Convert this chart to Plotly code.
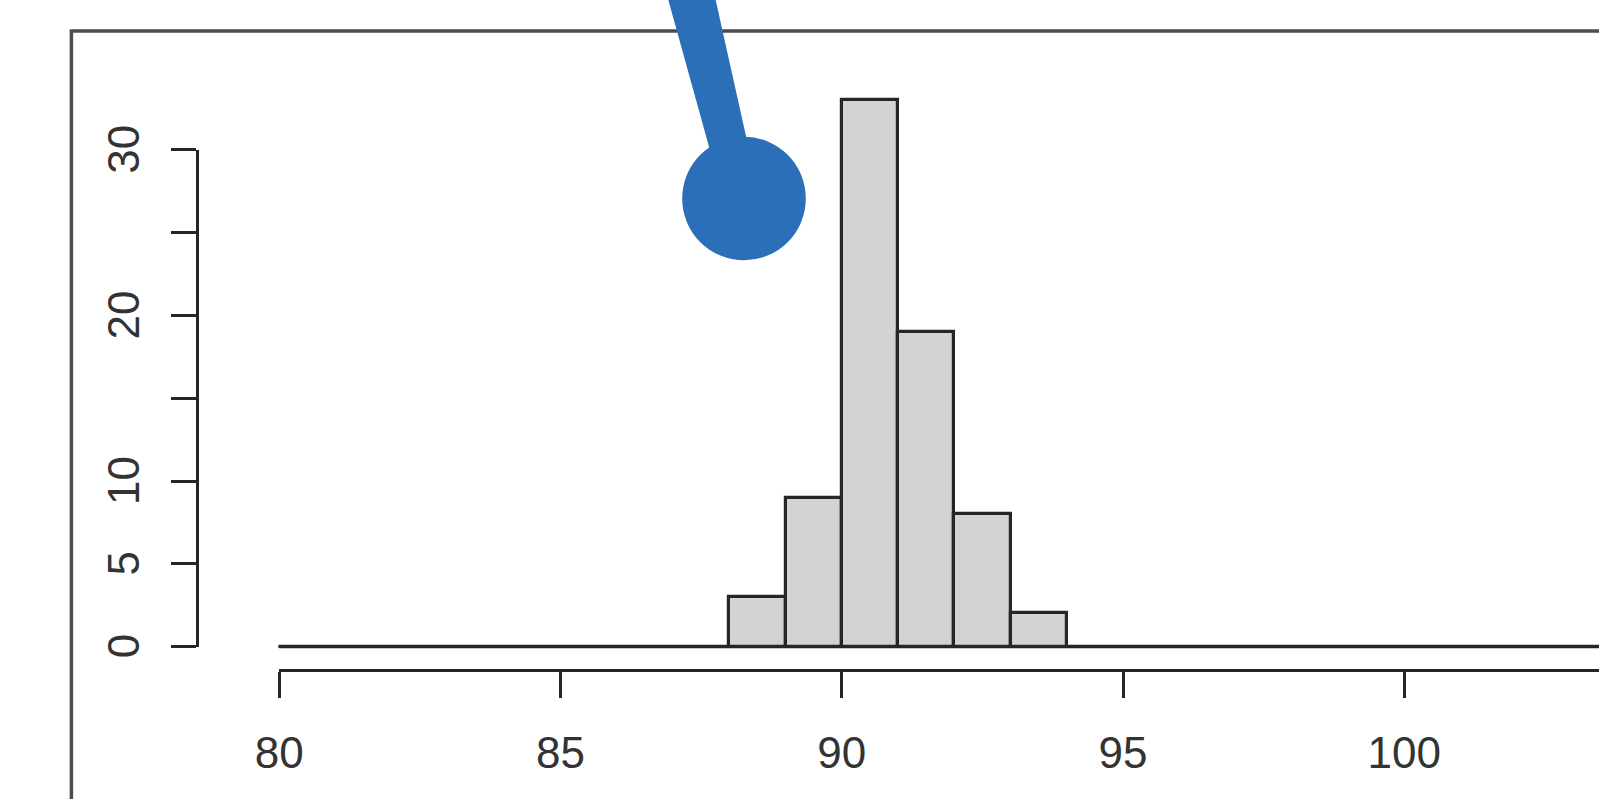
import plotly.graph_objects as go

# Histogram counts, one unit-wide bin per entry starting at 80
bin_starts = list(range(80, 104))
counts = [0, 0, 0, 0, 0, 0, 0, 0, 3, 9, 33, 19, 8, 2,
          0, 0, 0, 0, 0, 0, 0, 0, 0, 0]
x_ticks = [80, 85, 90, 95, 100]
x_tick_labels = ["80", "85", "90", "95", "100"]
y_ticks = [0, 5, 10, 15, 20, 25, 30]
y_tick_labels = ["0", "5", "10", "", "20", "", "30"]

W, H = 1599, 799
INK = "#262626"
TEXT = "#333333"
FONT = "Liberation Sans, Arial, sans-serif"
NBSP = "\u00a0"

# pixel geometry of the plotting region
X80_PX, PX_PER_X = 279.3, 56.25
Y0_PX, PX_PER_Y = 646.6, 16.56


def x_at(px):
    return 80 + (px - X80_PX) / PX_PER_X


def y_at(py):
    return (Y0_PX - py) / PX_PER_Y


def paper(px, py):
    return px / W, 1 - py / H


centers = [b + 0.5 for b in bin_starts]

fig = go.Figure()
fig.add_trace(go.Bar(
    x=centers, y=counts, width=1,
    marker=dict(color="#d3d3d3", line=dict(color=INK, width=3.2)),
    hoverinfo="skip", showlegend=False,
    xaxis="x", yaxis="y",
))
# carrier trace for the R-style axes
fig.add_trace(go.Scatter(
    x=[x_ticks[0]], y=[y_ticks[0]], mode="markers",
    marker=dict(opacity=0), hoverinfo="skip", showlegend=False,
    xaxis="x2", yaxis="y2",
))

x_right = x_at(W)
shapes = []
# zero-count bins form the baseline
shapes.append(dict(type="line", xref="x", yref="y",
                   x0=bin_starts[0], x1=x_right + 1, y0=0, y1=0,
                   line=dict(color=INK, width=3.2), layer="above"))

# plot frame (left and top edges)
bx, by = paper(71.4, 31.0)
shapes.append(dict(type="path", xref="paper", yref="paper",
                   path=f"M {bx},-0.05 L {bx},{by} L 1.05,{by}",
                   line=dict(color="#4d4d4d", width=3.5)))

# blue pointer: tapered stem and round head
BLUE = "#2a6fb8"
pts = [(665, -12), (713, -12), (758, 190), (721, 190)]
pp = [paper(*p) for p in pts]
path = "M " + " L ".join(f"{a},{b}" for a, b in pp) + " Z"
shapes.append(dict(type="path", xref="paper", yref="paper", path=path,
                   fillcolor=BLUE, line=dict(color=BLUE, width=0)))
cx, cy, r = 744.0, 198.5, 61.8
x0, y1 = paper(cx - r, cy - r)
x1, y0 = paper(cx + r, cy + r)
shapes.append(dict(type="circle", xref="paper", yref="paper",
                   x0=x0, x1=x1, y0=y0, y1=y1,
                   fillcolor=BLUE, line=dict(color=BLUE, width=0)))

axis_common = dict(showgrid=False, zeroline=False, showline=True,
                   linecolor=INK, linewidth=3, ticks="outside",
                   tickcolor=INK, tickwidth=3, automargin=False,
                   tickfont=dict(family=FONT, size=44, color=TEXT))

fig.update_layout(
    width=W, height=H,
    margin=dict(l=0, r=0, t=0, b=0, pad=0),
    paper_bgcolor="white", plot_bgcolor="rgba(0,0,0,0)",
    bargap=0,
    xaxis=dict(domain=[0, 1], range=[x_at(0), x_right], visible=False,
               automargin=False),
    yaxis=dict(domain=[0, 1], range=[y_at(H), y_at(0)], visible=False,
               automargin=False),
    xaxis2=dict(domain=[X80_PX / W, 1], range=[80, x_right],
                anchor="free", position=1 - 670 / H, side="bottom",
                tickvals=x_ticks, ticktext=x_tick_labels, ticklen=26,
                ticklabelstandoff=17, **axis_common),
    yaxis2=dict(domain=[1 - Y0_PX / H, 1 - (Y0_PX - 30 * PX_PER_Y) / H],
                range=[0, 30], anchor="free", position=197 / W, side="left",
                tickvals=y_ticks,
                ticktext=[t + NBSP if t else t for t in y_tick_labels],
                ticklen=25, tickangle=-90, ticklabelstandoff=14,
                **axis_common),
    shapes=shapes,
    showlegend=False,
)

fig.write_html("out.html")
